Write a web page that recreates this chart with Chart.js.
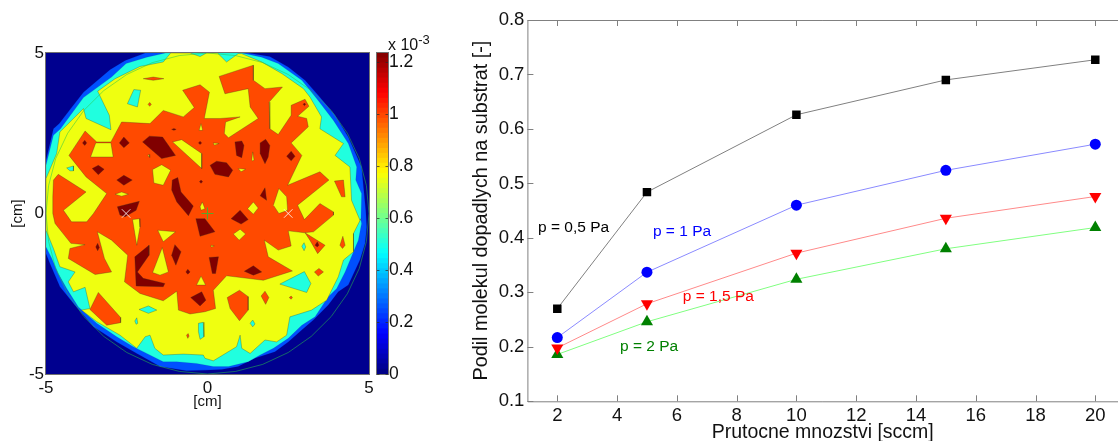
<!DOCTYPE html>
<html>
<head>
<meta charset="utf-8">
<title>Podil molekul dopadlych na substrat</title>
<script src="https://cdn.jsdelivr.net/npm/chart.js@4"></script>
<style>
  html, body { margin: 0; background: #fff; overflow: hidden; }
  canvas { position: absolute; top: 0; }
  #mapChart { left: 0; }
  #barChart { left: 372px; }
  #lineChart { left: 470px; }
  #barScale { position: absolute; left: 388px; top: 36px; font: 16px "Liberation Sans", Arial, sans-serif; color: #111; white-space: nowrap; }
  #barScale sup { font-size: 13px; line-height: 0; }
</style>
</head>
<body>
<canvas id="mapChart" width="373" height="441"></canvas>
<canvas id="barChart" width="98" height="441"></canvas>
<canvas id="lineChart" width="648" height="441"></canvas>
<div id="barScale">x 10<sup>-3</sup></div>
<script>
// right chart
const flowRates = [2, 5, 10, 15, 20];
const p05 = [0.270, 0.484, 0.626, 0.690, 0.727];
const p1 = [0.217, 0.337, 0.460, 0.524, 0.572];
const p15 = [0.198, 0.279, 0.372, 0.436, 0.476];
const p2 = [0.186, 0.246, 0.324, 0.380, 0.419];
const flowTicks = [2, 4, 6, 8, 10, 12, 14, 16, 18, 20];
const shareTicks = [0.1, 0.2, 0.3, 0.4, 0.5, 0.6, 0.7, 0.8];
// labels next to the lines: text, x, y
const pressureLabels = [
  ["p = 0,5 Pa", 1.355, 0.418, "#000000"],
  ["p = 1 Pa", 5.20, 0.411, "#0000ff"],
  ["p = 1,5 Pa", 6.20, 0.292, "#ff0000"],
  ["p = 2 Pa", 4.10, 0.200, "#008000"],
];

// colour bar
const barTicks = [0, 0.2, 0.4, 0.6, 0.8, 1, 1.2];
const barEdges = [0, 0.019, 0.039, 0.058, 0.077, 0.096, 0.116, 0.135, 0.154, 0.174, 0.193, 0.212, 0.232, 0.251, 0.270, 0.289, 0.309, 0.328, 0.347, 0.367, 0.386, 0.405, 0.425, 0.444, 0.463, 0.482, 0.502, 0.521, 0.540, 0.560, 0.579, 0.598, 0.618, 0.637, 0.656, 0.675, 0.695, 0.714, 0.733, 0.753, 0.772, 0.791, 0.811, 0.830, 0.849, 0.868, 0.888, 0.907, 0.926, 0.946, 0.965, 0.984, 1.004, 1.023, 1.042, 1.061, 1.081, 1.100, 1.119, 1.139, 1.158, 1.177, 1.197, 1.216, 1.235];

// contour map, everything in cm
const mapTicks = [-5, 0, 5];
const frameEdge = [[-5,-5],[-5,5],[5,5],[5,-5]];
const blueEdge = [[-5,1.66],[-4.77,2.64],[-4.59,2.80],[-4.21,3.30],[-3.84,3.78],[-3.02,4.48],[-2.55,4.77],[-1.93,5],[1.26,5],[1.93,4.89],[2.50,4.56],[3.02,4.15],[3.43,3.68],[3.95,3.06],[4.36,2.38],[4.77,1.45],[4.90,0.10],[4.93,-0.42],[4.88,-0.93],[4.72,-1.45],[4.36,-2.23],[4.05,-2.44],[3.74,-2.85],[3.28,-3.32],[2.92,-3.63],[2.50,-4.0],[2.09,-4.31],[1.47,-4.51],[0.95,-4.77],[0.44,-4.86],[-0.08,-4.88],[-0.65,-4.90],[-1.47,-4.77],[-2.19,-4.36],[-2.81,-4.0],[-3.53,-3.53],[-4.15,-2.80],[-4.57,-2.28],[-4.88,-1.56],[-5,-1.25]];
const cyanEdge = [[-5,1.50],[-4.77,2.44],[-4.55,2.64],[-3.84,3.61],[-2.97,4.25],[-2.52,4.67],[-1.88,4.87],[-1.30,5],[1.06,5],[1.68,4.87],[2.19,4.67],[2.92,4.15],[3.38,3.58],[3.90,2.90],[4.36,2.18],[4.62,1.45],[4.59,1.04],[4.77,0.62],[4.75,-0.21],[4.77,-0.31],[4.67,-0.83],[4.52,-1.19],[4.26,-1.82],[4.0,-2.34],[3.74,-2.59],[3.33,-3.22],[2.92,-3.48],[2.50,-3.89],[2.04,-4.20],[1.63,-4.41],[1.26,-4.62],[0.65,-4.77],[0.18,-4.77],[-0.34,-4.67],[-0.95,-4.62],[-1.37,-4.62],[-1.88,-4.36],[-2.30,-4.15],[-2.81,-3.84],[-3.43,-3.42],[-4.0,-2.91],[-4.36,-2.34],[-4.62,-1.87],[-4.82,-1.40],[-5,-1.04]];
const yellowEdge = [[-5,1.09],[-4.67,1.87],[-4.57,2.54],[-3.84,3.27],[-3.76,2.96],[-2.99,2.61],[-3.04,3.06],[-3.40,3.81],[-2.86,4.20],[-2.09,4.58],[-1.37,4.72],[-1.14,5],[-0.54,5],[-0.23,4.89],[-0.03,5],[0.31,5],[0.59,4.72],[0.95,4.98],[1.06,4.98],[1.68,4.72],[2.30,4.36],[2.97,3.89],[3.17,3.63],[3.53,3.01],[3.48,2.64],[4.21,2.18],[3.95,1.81],[4.41,1.45],[4.46,0.41],[4.72,-0.21],[4.75,-0.16],[4.52,-0.62],[4.52,-1.19],[4.21,-1.45],[4.05,-1.97],[3.69,-2.70],[3.22,-3.01],[2.55,-3.22],[2.45,-3.79],[2.14,-4.0],[1.78,-3.94],[1.32,-4.36],[1.06,-4.20],[1.01,-3.79],[0.90,-4.15],[0.18,-4.59],[-0.08,-4.51],[-0.13,-4.41],[-0.75,-4.38],[-1.37,-4.41],[-1.63,-4.20],[-1.78,-3.79],[-1.93,-3.84],[-2.19,-4.20],[-2.71,-3.79],[-3.43,-3.37],[-3.90,-3.01],[-3.64,-2.96],[-3.79,-2.30],[-4.15,-2.44],[-4.31,-2.13],[-4.10,-1.82],[-4.57,-1.66],[-4.77,-1.09],[-5,-0.52]];
const orangeEdge = [[-4.29,1.81],[-3.79,2.57],[-3.43,2.23],[-2.99,2.23],[-2.66,2.85],[-1.78,2.80],[-1.37,3.21],[-0.75,3.01],[-0.41,3.30],[-0.77,3.84],[-0.23,4.01],[0.06,3.78],[-0.10,2.96],[0.39,2.96],[1.01,3.01],[0.56,2.85],[0.52,2.49],[0.65,2.36],[1.57,2.96],[1.32,3.32],[1.26,3.89],[0.54,3.73],[0.36,4.27],[1.42,4.62],[1.42,4.15],[1.78,3.89],[2.32,3.94],[1.91,3.47],[1.93,2.64],[2.19,2.46],[2.59,3.06],[2.59,3.37],[3.02,3.56],[3.14,3.34],[2.79,3.03],[3.07,2.96],[3.12,2.70],[2.59,2.20],[2.92,1.81],[2.48,0.88],[3.48,1.30],[3.76,1.04],[2.79,0.26],[3.00,-0.19],[3.48,0.31],[3.90,0.05],[3.90,-0.05],[3.28,-0.57],[3.00,-0.60],[2.50,-0.54],[2.59,-1.01],[2.19,-1.14],[1.76,-0.83],[1.88,-1.35],[2.63,-1.79],[1.73,-2.08],[0.59,-1.94],[0.18,-2.39],[0.25,-2.96],[-0.08,-3.06],[-0.54,-3.13],[-0.90,-3.01],[-0.95,-2.42],[-1.37,-2.72],[-2.09,-2.49],[-2.57,-2.13],[-2.47,-1.30],[-2.97,-0.83],[-3.41,-0.57],[-3.19,-1.40],[-2.97,-1.82],[-3.48,-1.90],[-4.31,-1.40],[-4.26,-1.09],[-3.79,-0.97],[-4.23,-0.93],[-4.72,-0.31],[-4.79,0],[-4.79,0.52],[-4.77,1.04],[-4.62,1.22],[-3.76,0.67],[-4.46,0.10],[-4.21,-0.26],[-3.74,-0.26],[-3.53,0],[-3.12,0.62],[-3.76,1.14]];
const circleEdge = [[5,0],[4.92,0.87],[4.70,1.71],[4.33,2.5],[3.83,3.21],[3.21,3.83],[2.5,4.33],[1.71,4.70],[0.87,4.92],[0,5],[-0.87,4.92],[-1.71,4.70],[-2.5,4.33],[-3.21,3.83],[-3.83,3.21],[-4.33,2.5],[-4.70,1.71],[-4.92,0.87],[-5,0],[-4.92,-0.87],[-4.70,-1.71],[-4.33,-2.5],[-3.83,-3.21],[-3.21,-3.83],[-2.5,-4.33],[-1.71,-4.70],[-0.87,-4.92],[0,-5],[0.87,-4.92],[1.71,-4.70],[2.5,-4.33],[3.21,-3.83],[3.83,-3.21],[4.33,-2.5],[4.70,-1.71],[4.92,-0.87],[5,0]];
const cyanSpots = [
  [[-2.28,3.86],[-2.07,3.84],[-2.17,3.32],[-2.48,3.42]],
  [[-4.36,1.42],[-4.15,1.48],[-4.15,1.33],[-4.26,1.33]],
  [[-2.12,-2.99],[-1.83,-2.88],[-1.57,-3.01],[-1.83,-3.11]],
  [[-2.25,-3.35],[-2.19,-3.25],[-2.16,-3.42],[-2.21,-3.45]],
  [[-0.28,-3.42],[-0.13,-3.39],[-0.11,-3.84],[-0.23,-3.92],[-0.28,-3.68]],
  [[2.92,-1.02],[2.99,-0.91],[3.04,-1.04],[2.99,-1.16]],
  [[2.24,-2.20],[3.00,-1.81],[3.20,-2.18],[3.07,-2.46]],
  [[1.32,-3.42],[1.40,-3.32],[1.47,-3.44],[1.40,-3.53]],
];
const orangeSpots = [
  [[-1.99,4.20],[-1.68,4.25],[-1.35,4.20],[-1.68,4.15]],
  [[3.02,-0.60],[3.64,-0.99],[3.41,-1.25],[3.17,-0.83]],
  [[4.10,-0.99],[4.19,-0.71],[4.26,-0.99],[4.18,-1.09]],
  [[3.31,-1.82],[3.45,-1.71],[3.59,-1.82],[3.43,-1.95]],
  [[1.66,-2.57],[1.78,-2.42],[1.90,-2.62],[1.80,-2.83]],
  [[0.61,-2.62],[0.99,-2.39],[1.26,-2.59],[1.26,-3.01],[0.99,-3.34],[0.70,-2.96]],
  [[-3.64,-2.99],[-3.38,-2.46],[-2.69,-3.24],[-2.69,-3.40],[-3.12,-3.48]],
  [[3.93,1.01],[4.21,1.04],[4.26,0.52],[4.15,0.52]],
  [[-0.65,-3.79],[-0.60,-3.74],[-0.57,-3.82],[-0.61,-3.89]],
  [[2.53,-2.62],[2.59,-2.57],[2.63,-2.62],[2.59,-2.67]],
  [[-1.84,3.40],[-1.79,3.46],[-1.74,3.40],[-1.79,3.34]],
];
const yellowSpots = [
  [[-3.46,2.20],[-2.99,2.20],[-2.92,1.76],[-3.62,1.76]],
  [[-1.70,1.37],[-1.42,1.52],[-1.14,1.35],[-1.37,0.88],[-1.66,0.95]],
  [[-2.86,0.60],[-2.66,0.67],[-2.45,0.60],[-2.66,0.54]],
  [[-1.08,2.23],[-0.80,2.30],[-0.18,1.87],[-0.18,1.40]],
  [[-0.26,2.59],[-0.20,2.80],[-0.15,2.59]],
  [[-1.85,1.81],[-1.81,1.84],[-1.79,1.75]],
  [[-0.23,0.21],[-0.16,0.36],[-0.08,0.15],[-0.20,0.10]],
  [[0.18,2.20],[0.36,2.18],[0.21,2.13]],
  [[0.95,1.40],[1.18,1.38],[1.04,1.30]],
  [[1.37,1.66],[1.40,1.92],[1.44,1.66],[1.40,1.64]],
  [[1.24,0.15],[1.42,0.36],[1.57,0.17],[1.42,-0.02]],
  [[2.04,0.26],[2.21,0.78],[2.45,0.52],[2.48,0.10],[2.21,0]],
  [[0.80,-0.64],[1.01,-0.49],[1.18,-0.64],[0.98,-0.83]],
  [[-2.32,-0.19],[-2.11,-0.16],[-2.09,-0.42],[-2.19,-0.99]],
  [[-1.54,-0.52],[-0.99,-0.57],[-1.37,-0.88]],
  [[-1.70,-1.84],[-1.40,-1.06],[-1.21,-1.82],[-1.47,-1.92]],
  [[-0.34,-2.23],[-0.20,-1.95],[-0.06,-2.23]],
  [[0.11,-0.99],[0.21,-1.01],[0.13,-1.04]],
];
const darkSpots = [
  [[-3.87,2.20],[-3.80,2.28],[-3.74,2.20],[-3.80,2.12]],
  [[-2.73,2.20],[-2.59,2.38],[-2.42,2.20],[-2.59,2.05]],
  [[-2.01,2.23],[-1.80,2.41],[-1.39,2.38],[-0.99,1.81],[-1.42,1.71]],
  [[-3.57,1.40],[-3.38,1.50],[-3.20,1.38],[-3.38,1.21]],
  [[-2.81,1.04],[-2.59,1.19],[-2.33,1.04],[-2.59,0.88]],
  [[-1.09,1.04],[-0.92,1.12],[-0.82,0.67],[-0.44,0.23],[-0.59,-0.07],[-0.95,0.36],[-1.11,0.73]],
  [[-2.79,0.21],[-2.11,0.38],[-2.21,0.10],[-2.55,-0.10],[-2.71,-0.05]],
  [[0.08,1.50],[0.28,1.63],[0.59,1.58],[0.78,1.35],[0.65,1.14],[0.23,1.22]],
  [[0.85,2.23],[1.06,2.26],[1.13,2.12],[1.06,1.74],[0.90,1.81]],
  [[1.63,2.20],[1.80,2.31],[1.93,2.12],[1.88,1.76],[1.78,1.55],[1.63,1.87]],
  [[2.45,1.78],[2.59,1.94],[2.71,1.78],[2.59,1.64]],
  [[1.63,0.55],[1.78,0.80],[1.83,0.41]],
  [[0.73,-0.16],[1.01,0.10],[1.26,-0.19],[1.04,-0.33]],
  [[-0.36,-0.16],[-0.08,-0.16],[0.23,-0.57],[-0.23,-0.71]],
  [[-1.11,-1.30],[-1.01,-0.97],[-0.82,-1.19],[-0.98,-1.61]],
  [[-2.25,-1.35],[-1.81,-0.99],[-1.81,-1.30],[-2.17,-1.82],[-1.99,-2.02],[-1.32,-2.18],[-1.37,-2.28],[-2.21,-2.26]],
  [[-3.46,-1.04],[-3.40,-0.93],[-3.35,-1.06],[-3.40,-1.16]],
  [[-0.67,-1.82],[-0.61,-1.74],[-0.54,-1.82],[-0.61,-1.89]],
  [[-0.52,-2.62],[-0.18,-2.44],[-0.05,-2.70],[-0.23,-2.88]],
  [[0.05,-1.37],[0.34,-1.35],[0.25,-1.87],[0.15,-1.87]],
  [[1.14,-1.80],[1.42,-1.63],[1.68,-1.82],[1.42,-1.92]],
  [[3.33,-0.99],[3.40,-0.88],[3.45,-0.99],[3.40,-1.04]],
  [[-0.28,2.20],[-0.23,2.25],[-0.18,2.20],[-0.23,2.15]],
  [[-0.25,0.99],[-0.20,1.04],[-0.15,0.99],[-0.20,0.94]],
  [[-1.11,2.62],[-1.04,2.65],[-0.97,2.62],[-1.04,2.59]],
  [[2.96,3.40],[3.00,3.44],[3.04,3.40],[3.00,3.36]],
];
const whiteCrosses = [[-2.52, 0], [2.5, 0]];
const greenPlus = [[0, 0]];

const font = "'Liberation Sans', Arial, sans-serif";
const axisGrey = "#808080";
const hiddenGrid = { display: false, drawTicks: false };

const toPoints = (list) => list.map(([x, y]) => ({ x, y }));

const polygon = (points, color) => ({
  data: toPoints([...points, points[0]]),
  showLine: true,
  fill: "shape",
  backgroundColor: color,
  borderColor: "rgba(50,50,30,0.6)",
  borderWidth: 0.5,
  pointRadius: 0,
  tension: 0,
});

// painted from the lowest level up
const mapLayers = [
  { ...polygon(frameEdge, "#00008f"), borderWidth: 0 },
  { ...polygon(blueEdge, "#0050ff"), borderColor: "rgba(0,0,120,0.3)" },
  { ...polygon(cyanEdge, "#20ffdf"), borderColor: "rgba(0,80,120,0.3)" },
  polygon(yellowEdge, "#efff10"),
  ...cyanSpots.map((p) => polygon(p, "#20ffdf")),
  polygon(orangeEdge, "#ff4a00"),
  ...orangeSpots.map((p) => polygon(p, "#ff4a00")),
  ...yellowSpots.map((p) => polygon(p, "#efff10")),
  ...darkSpots.map((p) => polygon(p, "#800000")),
  {
    data: toPoints(circleEdge),
    showLine: true,
    fill: false,
    borderColor: "rgba(40,200,70,0.75)",
    borderWidth: 0.7,
    pointRadius: 0,
    tension: 0,
  },
  {
    data: toPoints(whiteCrosses),
    showLine: false,
    pointStyle: "crossRot",
    pointRadius: 6,
    pointBorderColor: "rgba(255,255,255,0.8)",
    pointBorderWidth: 1,
  },
  {
    data: toPoints(greenPlus),
    showLine: false,
    pointStyle: "cross",
    pointRadius: 6,
    pointBorderColor: "#5aa62a",
    pointBorderWidth: 1,
  },
];
mapLayers.forEach((layer, i) => { layer.order = mapLayers.length - i; });

const setTicks = (values) => (scale) => { scale.ticks = values.map((value) => ({ value })); };

// keep the plot box where the layout puts it, labels may hang over
const fixBox = (key, size) => (scale) => {
  scale[key] = size;
  scale.paddingLeft = scale.paddingRight = scale.paddingTop = scale.paddingBottom = 0;
};

new Chart(document.getElementById("mapChart"), {
  type: "scatter",
  data: { datasets: mapLayers },
  options: {
    responsive: false,
    animation: false,
    layout: { autoPadding: false, padding: { left: 0, right: 4, top: 53, bottom: 30 } },
    plugins: { legend: { display: false }, tooltip: { enabled: false } },
    scales: {
      x: {
        type: "linear", min: -5, max: 5,
        afterBuildTicks: setTicks(mapTicks),
        afterFit: fixBox("height", 37),
        grid: hiddenGrid,
        border: { display: false },
        ticks: { color: "#111", font: { family: font, size: 17 }, padding: 4, maxRotation: 0 },
        title: { display: true, text: "[cm]", color: "#111", font: { family: font, size: 15 }, padding: 0 },
      },
      y: {
        min: -5, max: 5,
        afterBuildTicks: setTicks(mapTicks),
        afterFit: fixBox("width", 46),
        grid: hiddenGrid,
        border: { display: false },
        ticks: { color: "#111", font: { family: font, size: 17 }, padding: 2 },
        title: { display: true, text: "[cm]", color: "#111", font: { family: font, size: 15 }, padding: { top: 9, bottom: 0 } },
      },
    },
  },
  plugins: [{
    id: "frame",
    afterDraw(chart) {
      const { ctx, chartArea: a } = chart;
      ctx.save();
      ctx.strokeStyle = "#707070";
      ctx.lineWidth = 1;
      ctx.strokeRect(a.left - 0.5, a.top - 0.5, a.right - a.left + 1, a.bottom - a.top + 1);
      ctx.restore();
    },
  }],
});

const jet = (t) => {
  const c = (v) => Math.round(255 * Math.max(0, Math.min(1, v)));
  return `rgb(${c(1.5 - Math.abs(4 * t - 3))},${c(1.5 - Math.abs(4 * t - 2))},${c(1.5 - Math.abs(4 * t - 1))})`;
};

new Chart(document.getElementById("barChart"), {
  type: "bar",
  data: {
    labels: [""],
    datasets: barEdges.slice(1).map((hi, i) => ({
      data: [[barEdges[i], hi]],
      backgroundColor: jet((i + 0.5) / (barEdges.length - 1)),
      barPercentage: 1,
      categoryPercentage: 1,
      borderWidth: 0,
      inflateAmount: 0.4,
    })),
  },
  options: {
    responsive: false,
    animation: false,
    layout: { autoPadding: false, padding: { left: 5, right: 0, top: 53, bottom: 67 } },
    plugins: { legend: { display: false }, tooltip: { enabled: false } },
    scales: {
      x: { stacked: true, display: false },
      y: {
        position: "right",
        min: 0, max: 1.235,
        afterBuildTicks: setTicks(barTicks),
        afterFit: fixBox("width", 82),
        grid: hiddenGrid,
        border: { display: false },
        ticks: { color: "#111", font: { family: font, size: 17.5 }, padding: 1, callback: (v) => String(v) },
      },
    },
  },
  plugins: [{
    id: "barFrame",
    afterDraw(chart) {
      const { ctx, chartArea: a, scales } = chart;
      ctx.save();
      ctx.strokeStyle = "#707070";
      ctx.lineWidth = 1;
      ctx.strokeRect(a.left - 0.5, a.top - 0.5, a.right - a.left + 1, a.bottom - a.top + 1);
      ctx.strokeStyle = "rgba(40,40,40,0.7)";
      barTicks.forEach((v) => {
        const y = Math.round(scales.y.getPixelForValue(v)) + 0.5;
        ctx.beginPath();
        ctx.moveTo(a.left, y); ctx.lineTo(a.left + 2.5, y);
        ctx.moveTo(a.right - 2.5, y); ctx.lineTo(a.right, y);
        ctx.stroke();
      });
      ctx.restore();
    },
  }],
});

const series = (label, values, color, line, pointStyle, radius, rotation) => ({
  label,
  data: values.map((y, i) => ({ x: flowRates[i], y })),
  showLine: true,
  borderColor: line,
  borderWidth: 1,
  tension: 0,
  pointStyle,
  pointRadius: radius,
  pointRotation: rotation,
  pointBackgroundColor: color,
  pointBorderColor: color,
  pointBorderWidth: 0,
});

new Chart(document.getElementById("lineChart"), {
  type: "scatter",
  data: {
    datasets: [
      series("p = 0,5 Pa", p05, "#000000", "#808080", "rect", 6, 0),
      series("p = 1 Pa", p1, "#0000ff", "#8a8aff", "circle", 5.5, 0),
      series("p = 1,5 Pa", p15, "#ff0000", "#ff8a8a", "triangle", 7, 180),
      series("p = 2 Pa", p2, "#008000", "#80ff80", "triangle", 7, 0),
    ],
  },
  options: {
    responsive: false,
    animation: false,
    layout: { autoPadding: false, padding: { left: 0, right: 0, top: 20, bottom: 0 } },
    plugins: { legend: { display: false }, tooltip: { enabled: false } },
    scales: {
      x: {
        type: "linear", min: 1, max: 20.76,
        afterBuildTicks: setTicks(flowTicks),
        afterFit: fixBox("height", 39.7),
        grid: hiddenGrid,
        border: { display: false },
        ticks: { color: "#111", font: { family: font, size: 18.5 }, padding: 4, maxRotation: 0 },
        title: { display: true, text: "Prutocne mnozstvi [sccm]", color: "#111", font: { family: font, size: 19.5 }, padding: { top: 0, bottom: -3 } },
      },
      y: {
        min: 0.1, max: 0.8,
        afterBuildTicks: setTicks(shareTicks),
        afterFit: fixBox("width", 57.4),
        grid: hiddenGrid,
        border: { display: false },
        ticks: { color: "#111", font: { family: font, size: 18.5 }, padding: 3, callback: (v) => v.toFixed(1) },
        title: { display: true, text: "Podil molekul dopadlych na substrat [-]", color: "#111", font: { family: font, size: 19.8 }, padding: 0 },
      },
    },
  },
  plugins: [{
    id: "axesAndLabels",
    beforeDatasetsDraw(chart) {
      const { ctx, chartArea: a, scales } = chart;
      ctx.save();
      ctx.strokeStyle = axisGrey;
      ctx.lineWidth = 1;
      ctx.beginPath();
      ctx.moveTo(a.right, a.top + 0.5); ctx.lineTo(a.left + 0.5, a.top + 0.5);
      ctx.lineTo(a.left + 0.5, a.bottom + 0.5); ctx.lineTo(a.right, a.bottom + 0.5);
      flowTicks.forEach((v) => {
        const x = Math.round(scales.x.getPixelForValue(v)) + 0.5;
        ctx.moveTo(x, a.top); ctx.lineTo(x, a.top + 6);
        ctx.moveTo(x, a.bottom); ctx.lineTo(x, a.bottom - 6);
      });
      shareTicks.forEach((v) => {
        const y = Math.round(scales.y.getPixelForValue(v)) + 0.5;
        ctx.moveTo(a.left, y); ctx.lineTo(a.left + 6, y);
      });
      ctx.stroke();
      ctx.restore();
    },
    afterDatasetsDraw(chart) {
      const { ctx, scales } = chart;
      ctx.save();
      ctx.font = `15.5px ${font}`;
      ctx.textBaseline = "middle";
      pressureLabels.forEach(([text, x, y, color]) => {
        ctx.fillStyle = color;
        ctx.fillText(text, scales.x.getPixelForValue(x), scales.y.getPixelForValue(y));
      });
      ctx.restore();
    },
  }],
});
</script>
</body>
</html>
